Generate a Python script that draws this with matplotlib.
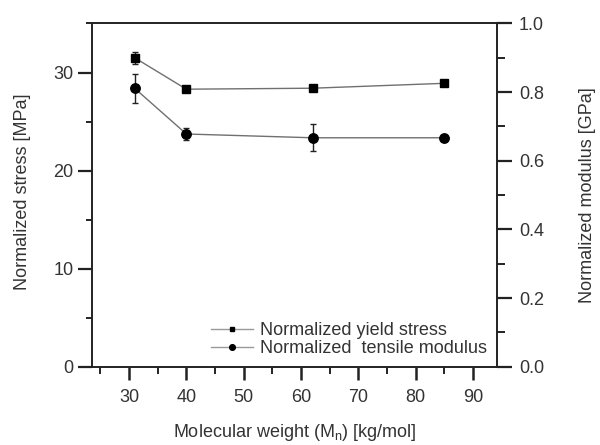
import numpy as np
import matplotlib
matplotlib.use("Agg")
import matplotlib.pyplot as plt
from matplotlib.ticker import MultipleLocator, FormatStrFormatter

# Data
mol_weight = [31, 40, 62, 85]                 # kg/mol
yield_stress = [31.5, 28.3, 28.4, 28.9]       # MPa (left axis)
yield_err = [0.6, 0.2, 0.2, 0.25]
tensile_mod = [0.811, 0.678, 0.667, 0.667]    # GPa (right axis)
tensile_err = [0.042, 0.017, 0.039, 0.0]

TEXT = "#333333"
plt.rcParams.update({
    "font.family": ["Liberation Sans", "DejaVu Sans"],
    "font.size": 13,
    "text.color": TEXT,
    "axes.labelcolor": TEXT,
    "xtick.color": "#222222",
    "ytick.color": "#222222",
    "xtick.labelcolor": TEXT,
    "ytick.labelcolor": TEXT,
    "mathtext.fontset": "custom",
    "mathtext.rm": "Liberation Sans",
})

fig = plt.figure(figsize=(6.0, 4.45), dpi=100)
ax = fig.add_axes([0.1538, 0.176, 0.674, 0.7712])
ax2 = ax.twinx()

line_c = "#707070"


def draw(a, y, err, marker, ms):
    eb = a.errorbar(mol_weight, y, yerr=err, fmt="-" + marker, color="black",
                    ms=ms, lw=1.0, ecolor="#222222", elinewidth=1.0,
                    capsize=2.5, capthick=1.0)
    eb[0].set_color(line_c)
    eb[0].set_markerfacecolor("black")
    eb[0].set_markeredgecolor("black")
    return eb


l1 = draw(ax, yield_stress, yield_err, "s", 6.0)
l2 = draw(ax2, tensile_mod, tensile_err, "o", 6.8)

ax.set_xlim(23.6, 94.1)
ax.set_ylim(0, 35)
ax2.set_ylim(0, 1.0)

ax.xaxis.set_major_locator(MultipleLocator(10))
ax.xaxis.set_minor_locator(MultipleLocator(5))
ax.yaxis.set_major_locator(MultipleLocator(10))
ax.yaxis.set_minor_locator(MultipleLocator(5))
ax2.yaxis.set_major_locator(MultipleLocator(0.2))
ax2.yaxis.set_minor_locator(MultipleLocator(0.1))
ax2.yaxis.set_major_formatter(FormatStrFormatter("%.1f"))

for a in (ax, ax2):
    for s in a.spines.values():
        s.set_linewidth(1.2)
        s.set_color("#222222")

ax.tick_params(axis="x", which="major", direction="out", length=9.4, width=1.8, pad=6.5, top=False)
ax.tick_params(axis="x", which="minor", direction="out", length=5, width=1.4, top=False)
ax.tick_params(axis="y", which="major", direction="out", length=10, width=1.6, pad=3.5)
ax.tick_params(axis="y", which="minor", direction="out", length=4.5, width=1.4)
ax2.tick_params(axis="y", which="major", direction="out", length=11, width=1.6, pad=5)
ax2.tick_params(axis="y", which="minor", direction="out", length=6, width=1.4)

ax.set_xlabel(r"Molecular weight (M$_\mathregular{n}$) [kg/mol]", va="center")
ax.xaxis.set_label_coords(0.5, -0.193)
ax.set_ylabel("Normalized stress [MPa]", va="center")
ax.yaxis.set_label_coords(-0.172, 0.51)
ax2.set_ylabel("Normalized modulus [GPa]", va="center")
ax2.yaxis.set_label_coords(1.225, 0.5)

leg = ax.legend([l1[0], l2[0]], ["Normalized yield stress", "Normalized  tensile modulus"],
                loc="lower right", bbox_to_anchor=(0.975, 0.028), frameon=False,
                markerscale=0.6, handlelength=2.3, handletextpad=0.37,
                labelspacing=0.05, borderaxespad=0, borderpad=0)
for h in leg.legend_handles:
    h.set_color("#999999")
    h.set_markerfacecolor("black")
    h.set_markeredgecolor("black")

fig.savefig("out.png", dpi=100)
